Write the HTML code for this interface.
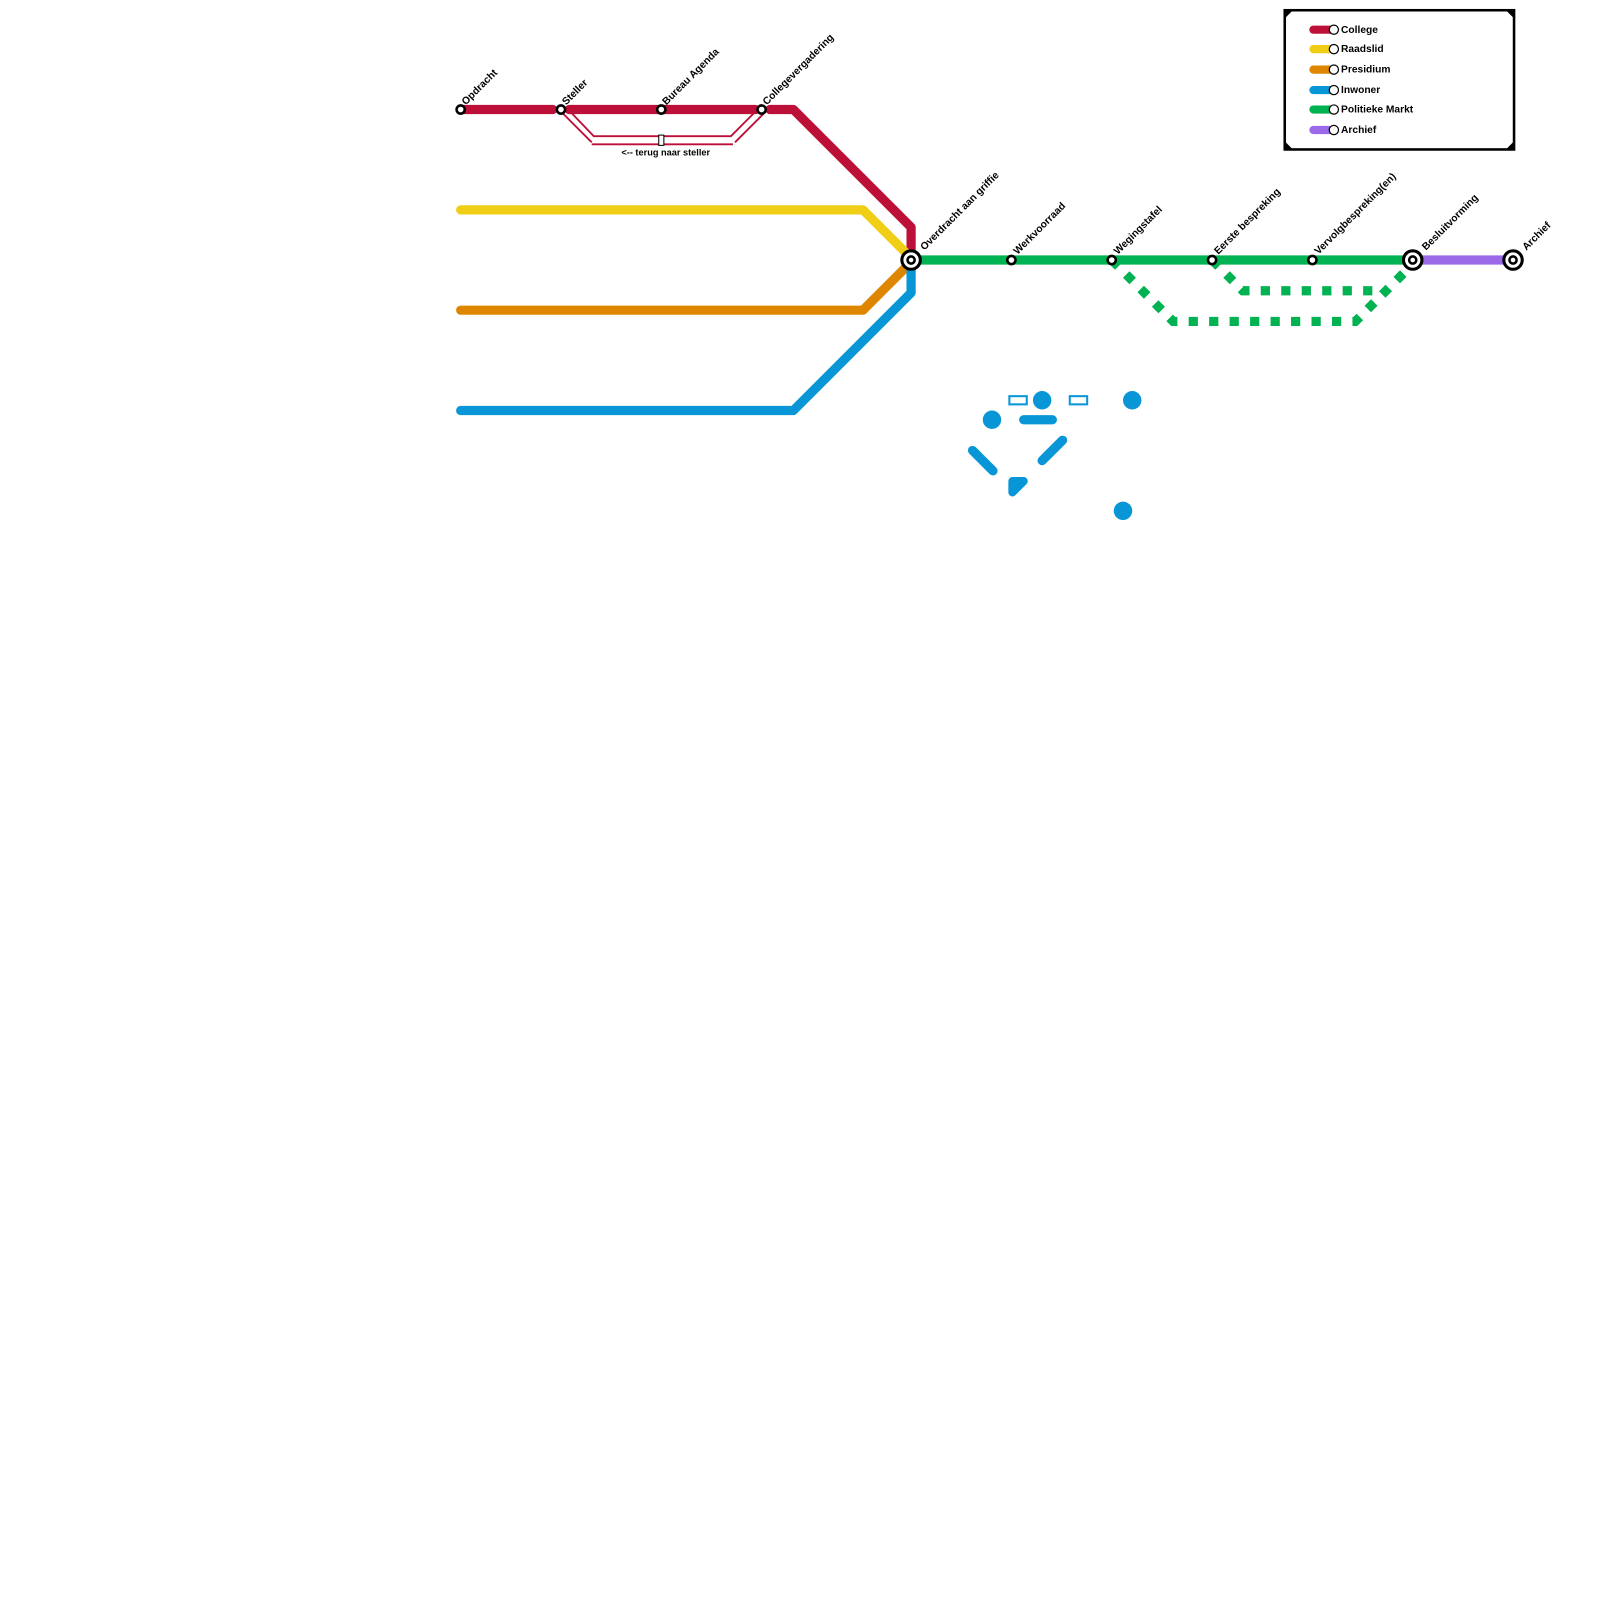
<!DOCTYPE html>
<html><head><meta charset="utf-8"><style>
body{margin:0;background:#fff}
svg text{font-family:"Liberation Sans",sans-serif;font-weight:bold;font-size:10px;fill:#000}
</style></head><body>
<svg width="1600" height="1600" viewBox="0 0 1600 1600" xmlns="http://www.w3.org/2000/svg">
<g transform="scale(1.0237)">
<g fill="none" stroke-linecap="round" stroke-linejoin="round" stroke-width="9">
<polyline stroke="#BD1038" points="450,107 540,107"/>
<polyline stroke="#BD1038" points="556,107 738,107"/>
<polyline stroke="#BD1038" points="752,107 775,107 890,222 890,244"/>
<polyline stroke="#F0CE15" points="450,205 843,205 885,247"/>
<polyline stroke="#DF8600" points="450,303 843,303 885,261"/>
<polyline stroke="#0896D7" points="450,401 775,401 890,286 890,262"/>
<polyline stroke="#00B251" points="890,254 1380,254"/>
<polyline stroke="#9A6AE8" points="1380,254 1478,254"/>
</g>
<g fill="none" stroke="#00B251" stroke-width="9" stroke-dasharray="9 11">
<polyline points="1086,254 1146,314 1324,314 1380,258"/>
<polyline points="1184,254 1214,284 1344,284"/>
</g>
<g fill="none" stroke="#BD1038" stroke-width="1.8">
<polyline points="550,111 578,139"/><polyline points="555,107 580,133 714,133 740,107"/>
<polyline points="578,141 716,141"/><polyline points="718,139 746,111"/>
</g>
<rect x="643.5" y="132" width="5" height="10" fill="#fff" stroke="#000" stroke-width="1"/>
<text x="607" y="152" style="font-size:9px">&lt;-- terug naar steller</text>
<g fill="#fff" stroke="#000" stroke-width="2.5">
<circle cx="450" cy="107" r="4"/><circle cx="548" cy="107" r="4"/><circle cx="646" cy="107" r="4"/><circle cx="744" cy="107" r="4"/>
<circle cx="988" cy="254" r="4"/><circle cx="1086" cy="254" r="4"/><circle cx="1184" cy="254" r="4"/><circle cx="1282" cy="254" r="4"/>
</g>
<g fill="#fff" stroke="#000">
<circle cx="890" cy="254" r="9" stroke-width="3"/><circle cx="890" cy="254" r="3.5" stroke-width="2.5"/>
<circle cx="1380" cy="254" r="9" stroke-width="3"/><circle cx="1380" cy="254" r="3.5" stroke-width="2.5"/>
<circle cx="1478" cy="254" r="9" stroke-width="3"/><circle cx="1478" cy="254" r="3.5" stroke-width="2.5"/>
</g>
<g>
<text transform="translate(455,103) rotate(-45)">Opdracht</text>
<text transform="translate(553,103) rotate(-45)">Steller</text>
<text transform="translate(651,103) rotate(-45)">Bureau Agenda</text>
<text transform="translate(749,103) rotate(-45)">Collegevergadering</text>
<text transform="translate(903,245) rotate(-45)">Overdracht aan griffie</text>
<text transform="translate(994,249) rotate(-45)">Werkvoorraad</text>
<text transform="translate(1092,249) rotate(-45)">Wegingstafel</text>
<text transform="translate(1190,249) rotate(-45)">Eerste bespreking</text>
<text transform="translate(1288,249) rotate(-45)">Vervolgbespreking(en)</text>
<text transform="translate(1393,245) rotate(-45)">Besluitvorming</text>
<text transform="translate(1491,245) rotate(-45)">Archief</text>
</g>
<g fill="#0896D7" stroke="#0896D7">
<circle cx="969" cy="410" r="9" stroke="none"/><circle cx="1018" cy="391" r="9" stroke="none"/>
<circle cx="1106" cy="391" r="9" stroke="none"/><circle cx="1097" cy="499" r="9" stroke="none"/>
<line x1="1000" y1="410" x2="1028" y2="410" stroke-width="9" stroke-linecap="round"/>
<line x1="950" y1="440" x2="970" y2="460" stroke-width="9" stroke-linecap="round"/>
<line x1="1018" y1="450" x2="1038" y2="430" stroke-width="9" stroke-linecap="round"/>
<path d="M989,470 L1000,470 L989,481 Z" stroke-width="8" stroke-linejoin="round"/>
<rect x="986" y="387" width="17" height="8" fill="none" stroke-width="2"/>
<rect x="1045" y="387" width="17" height="8" fill="none" stroke-width="2"/>
</g>
<rect x="1255" y="10" width="224" height="136" fill="#fff" stroke="#000" stroke-width="2.5"/>
<path d="M1255,10 L1263,10 L1255,18Z M1479,10 L1471,10 L1479,18Z M1255,146 L1263,146 L1255,138Z M1479,146 L1471,146 L1479,138Z" fill="#000"/>
<g stroke-width="8" stroke-linecap="round">
<line x1="1283" y1="29" x2="1300" y2="29" stroke="#BD1038"/>
<line x1="1283" y1="48" x2="1300" y2="48" stroke="#F0CE15"/>
<line x1="1283" y1="68" x2="1300" y2="68" stroke="#DF8600"/>
<line x1="1283" y1="88" x2="1300" y2="88" stroke="#0896D7"/>
<line x1="1283" y1="107" x2="1300" y2="107" stroke="#00B251"/>
<line x1="1283" y1="127" x2="1300" y2="127" stroke="#9A6AE8"/>
</g>
<g fill="#fff" stroke="#000" stroke-width="1.2">
<circle cx="1303" cy="29" r="4.5"/><circle cx="1303" cy="48" r="4.5"/><circle cx="1303" cy="68" r="4.5"/>
<circle cx="1303" cy="88" r="4.5"/><circle cx="1303" cy="107" r="4.5"/><circle cx="1303" cy="127" r="4.5"/>
</g>
<g style="font-size:9.5px">
<text x="1310" y="32">College</text><text x="1310" y="51">Raadslid</text><text x="1310" y="71">Presidium</text>
<text x="1310" y="91">Inwoner</text><text x="1310" y="110">Politieke Markt</text><text x="1310" y="130">Archief</text>
</g>
</g>
</svg>
</body></html>
